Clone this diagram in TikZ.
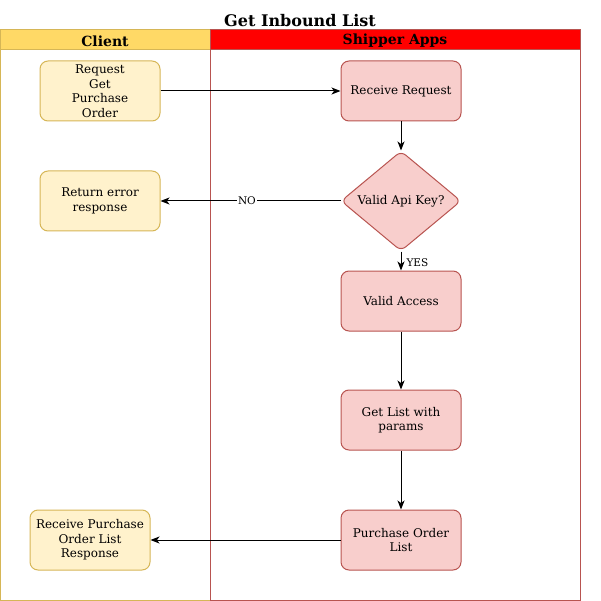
\documentclass[tikz,border=0pt]{standalone}
\usepackage{fontspec}
\setmainfont{DejaVu Serif}
\usetikzlibrary{arrows.meta, positioning, shapes.geometric}
\definecolor{clientfill}{HTML}{FFF2CC}
\definecolor{clientline}{HTML}{D6B656}
\definecolor{clienthead}{HTML}{FFD966}
\definecolor{appfill}{HTML}{F8CECC}
\definecolor{appline}{HTML}{B85450}
\begin{document}
\begin{tikzpicture}[x=1pt, y=-1pt, >={Stealth[length=9pt, width=7pt, inset=2.5pt]},
  font=\fontsize{12}{14.5}\selectfont, line width=1pt,
  clientbox/.style={draw=clientline, fill=clientfill, rounded corners=8pt,
    minimum width=120pt, minimum height=60pt, align=center, inner sep=2pt},
  appbox/.style={draw=appline, fill=appfill, rounded corners=8pt,
    minimum width=120pt, minimum height=60pt, align=center, inner sep=2pt},
  decision/.style={diamond, draw=appline, fill=appfill, rounded corners=6pt,
    minimum width=120pt, minimum height=100pt, inner sep=0pt},
  lanehead/.style={font=\fontsize{14}{16}\selectfont\bfseries},
  lbl/.style={font=\fontsize{10.5}{12}\selectfont, inner sep=1pt}]
  \useasboundingbox (0,0) rectangle (601,601);
  % Title
  \node (title) at (300,21) {\fontsize{16}{18}\selectfont\bfseries Get Inbound List};
  % Lanes
  \draw[clientline, fill=clienthead] (0,30) rectangle (210,50);
  \draw[clientline] (0,50) rectangle (210,600);
  \node[lanehead] (clienthd) at (105,41) {Client};
  \draw[appline, fill=red] (210,30) rectangle (580,50);
  \draw[appline] (210,50) rectangle (580,600);
  \node[lanehead] (apphd) at (395,41) {Shipper Apps};
  % Client side
  \node[clientbox] (req) at (100,91) {Request\\Get\\Purchase\\Order};
  \node[clientbox] (err) at (100,201) {Return error\\response};
  \node[clientbox] (resp) at (90,540) {Receive Purchase\\Order List\\Response};
  % Shipper Apps side
  \node[appbox] (recv) at (401,91) {Receive Request};
  \node[decision] (check) at (401,201) {Valid Api Key?};
  \node[appbox] (valid) at (401,301) {Valid Access};
  \node[appbox] (getlist) at (401,420) {Get List with\\params};
  \node[appbox] (polist) at (401,540) {Purchase Order\\List};
  % Flow
  \draw[->] (req) -- (recv);
  \draw[->] (recv) -- (check);
  \draw[->] (check) -- node[lbl, fill=white, pos=0.52] {NO} (err);
  \draw[->] (check) -- node[lbl, right=4pt, yshift=-2pt] {YES} (valid);
  \draw[->] (valid) -- (getlist);
  \draw[->] (getlist) -- (polist);
  \draw[->] (polist) -- (resp);
\end{tikzpicture}
\end{document}
